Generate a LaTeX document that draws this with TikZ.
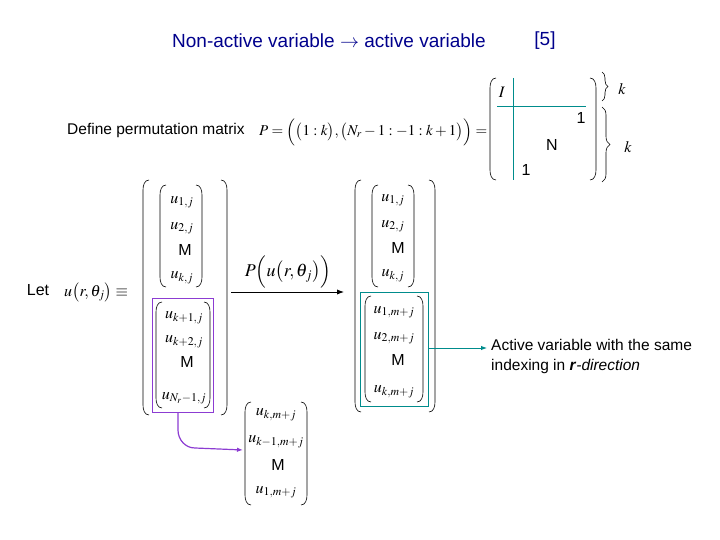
\documentclass[tikz,border=0pt]{standalone}
\usepackage{mathptmx}
\usepackage{fontspec}
\setmainfont{Liberation Sans}
\usetikzlibrary{arrows.meta,decorations.pathreplacing}
\definecolor{navy}{RGB}{0,0,140}
\definecolor{tealc}{RGB}{0,140,140}
\definecolor{purp}{RGB}{140,60,210}
\newcommand{\lpar}[3]{\draw[pline] (#1+6,-#2) to[out=180,in=90] (#1,-#2-10) -- (#1,-#3+10) to[out=-90,in=180] (#1+6,-#3);}
\newcommand{\rpar}[3]{\draw[pline] (#1-6,-#2) to[out=0,in=90] (#1,-#2-10) -- (#1,-#3+10) to[out=-90,in=0] (#1-6,-#3);}
\begin{document}
\begin{tikzpicture}[x=1pt,y=1pt,
  pline/.style={line width=0.6pt},
  t/.style={inner sep=0pt,font=\fontsize{16}{18}\selectfont},
  m/.style={inner sep=0pt,font=\fontsize{16}{18}\selectfont},
  mm/.style={inner sep=0pt,font=\fontsize{18}{20}\selectfont}]
\useasboundingbox (0,0) rectangle (720,-540);
\node[inner sep=0pt,font=\fontsize{19}{21}\selectfont,text=navy] (title) at (329,-41) {Non-active variable $\rightarrow$ active variable};
\node[inner sep=0pt,font=\fontsize{19}{21}\selectfont,text=navy] (ref) at (545,-41) {[5]};
\node[inner sep=0pt,font=\fontsize{15.5}{17}\selectfont,anchor=west] (def) at (67,-130) {Define permutation matrix};
\node[inner sep=0pt,font=\fontsize{15}{17}\selectfont,anchor=west] (peq) at (259,-132) {$P=\Bigl(\bigl(1:k\bigr),\bigl(N_r-1:-1:k+1\bigr)\Bigr)=$};
% big matrix
\lpar{490}{78}{180}
\rpar{596}{78}{180}
\draw[tealc,line width=1pt] (513,-78) -- (513,-180);
\draw[tealc,line width=1pt] (497,-107) -- (586,-107);
\node[m] (I) at (502,-92) {$I$};
\node[t] (o1) at (581,-118) {1};
\node[t] (N) at (552,-145) {N};
\node[t] (o2) at (526,-170) {1};
\draw[pline,decorate,decoration={brace,amplitude=6pt}] (602,-72) -- (602,-101);
\draw[pline,decorate,decoration={brace,amplitude=8pt}] (602,-107) -- (602,-182);
\node[m] (k1) at (622,-89) {$k$};
\node[m] (k2) at (628,-147) {$k$};
% Let
\node[t] (let) at (38,-290) {Let};
\node[m,anchor=west] (udef) at (64,-292) {$u\bigl(r,\theta_j\bigr)\equiv$};
% left column
\lpar{143}{180}{415}
\rpar{227}{180}{415}
\lpar{160}{185}{287}
\rpar{202}{185}{287}
\node[m] (a1) at (182,-202) {$u_{1,j}$};
\node[m] (a2) at (182,-228) {$u_{2,j}$};
\node[t] (a3) at (185,-250) {M};
\node[m] (a4) at (182,-278) {$u_{k,j}$};
\draw[purp,line width=1pt] (152,-298) rectangle (213,-412);
\lpar{156}{302}{408}
\rpar{210}{302}{408}
\node[m] (b1) at (184,-318) {$u_{k+1,j}$};
\node[m] (b2) at (184,-342) {$u_{k+2,j}$};
\node[t] (b3) at (187,-362) {M};
\node[m] (b4) at (184,-398) {$u_{N_r-1,j}$};
\coordinate (bx) at (178,-412);
% arrow
\coordinate (ar1) at (231,-292);
\coordinate (ar2) at (344,-292);
\draw[line width=1pt,-{Latex[length=7pt]}] (ar1) -- (ar2);
\node[mm] (plab) at (288,-272) {$P\Bigl(u\bigl(r,\theta_j\bigr)\Bigr)$};
% right column
\lpar{355}{180}{412}
\rpar{435}{180}{412}
\lpar{372}{185}{287}
\rpar{414}{185}{287}
\node[m] (c1) at (393,-200) {$u_{1,j}$};
\node[m] (c2) at (393,-226) {$u_{2,j}$};
\node[t] (c3) at (398,-248) {M};
\node[m] (c4) at (393,-276) {$u_{k,j}$};
\draw[tealc,line width=1pt] (360,-292) rectangle (428,-406);
\lpar{365}{296}{402}
\rpar{423}{296}{402}
\node[m] (d1) at (394,-312) {$u_{1,m+j}$};
\node[m] (d2) at (394,-338) {$u_{2,m+j}$};
\node[t] (d3) at (398,-360) {M};
\node[m] (d4) at (394,-392) {$u_{k,m+j}$};
\coordinate (tb) at (428,-348);
\node[inner sep=0pt,font=\fontsize{15.5}{20}\selectfont,anchor=west,align=left] (act) at (491,-356) {Active variable with the same\\indexing in \textbf{\textit{r}}\textit{-direction}};
\draw[tealc,line width=1pt,-{Latex[length=6pt]}] (tb) -- (487,-348);
% bottom vector
\lpar{245}{402}{505}
\rpar{307}{402}{505}
\node[m] (e1) at (276,-415) {$u_{k,m+j}$};
\node[m] (e2) at (276,-442) {$u_{k-1,m+j}$};
\node[t] (e3) at (278,-465) {M};
\node[m] (e4) at (276,-492) {$u_{1,m+j}$};
\draw[purp,line width=1.2pt,-{Latex[length=6pt]}] (bx) -- (178,-430) to[out=-90,in=180] (195,-448) -- (243,-450);
\end{tikzpicture}
\end{document}
